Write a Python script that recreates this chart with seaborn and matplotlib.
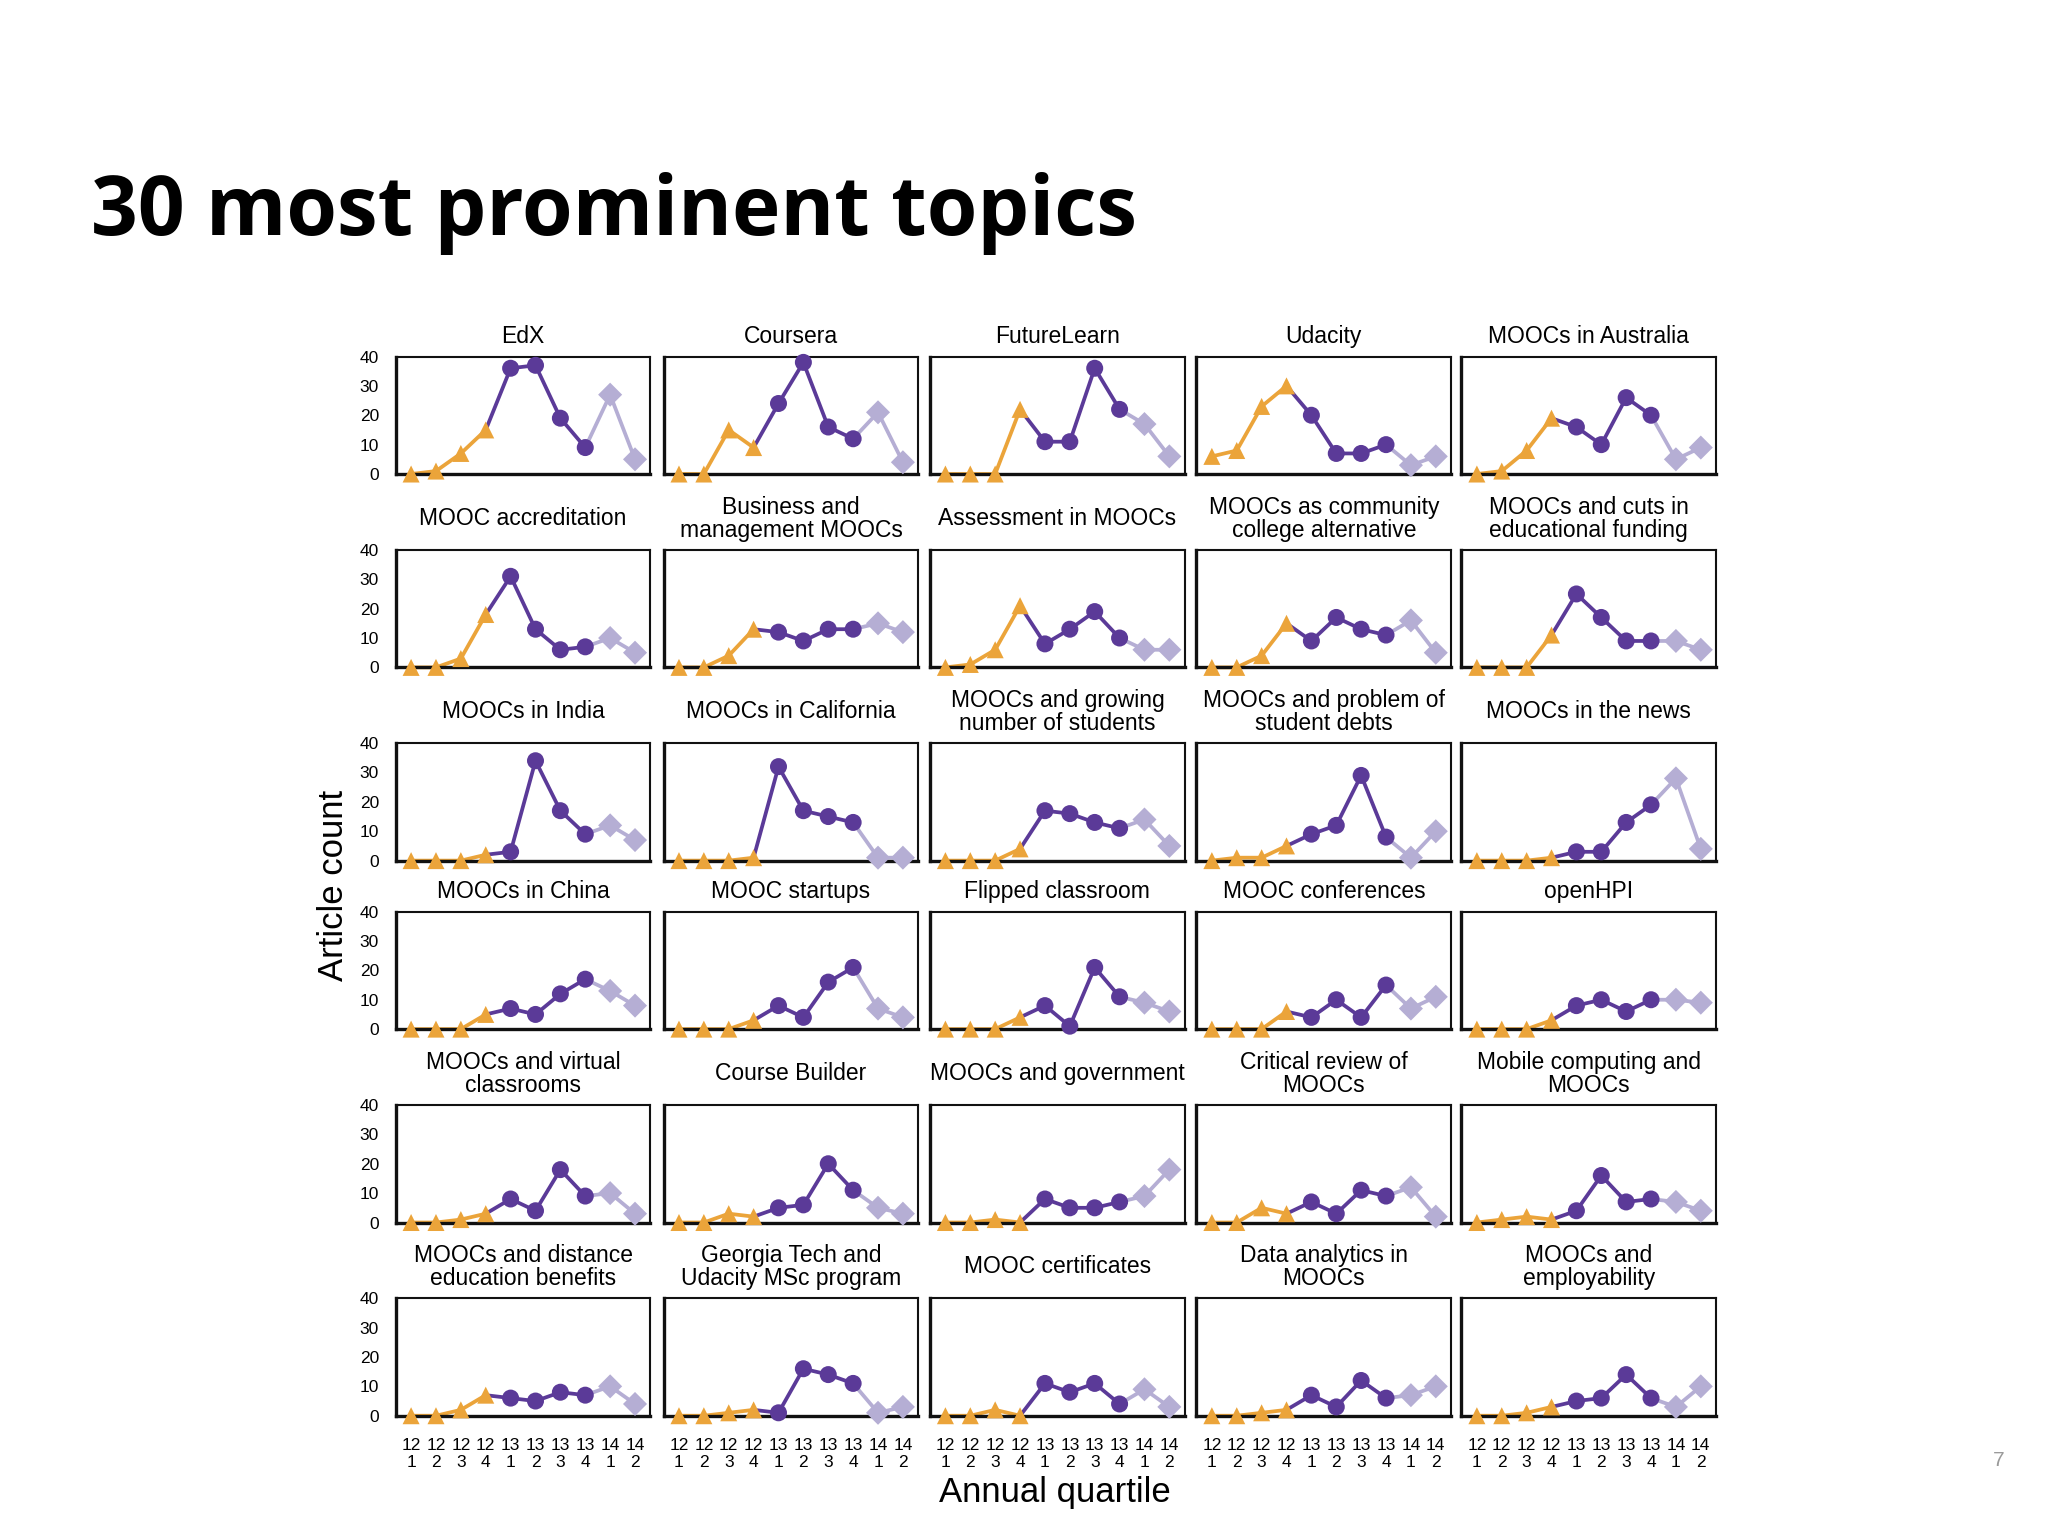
import numpy as np
import pandas as pd
import matplotlib.pyplot as plt
import seaborn as sns

# quarters 2012-1 .. 2014-2
QUARTERS = ["12\n1", "12\n2", "12\n3", "12\n4", "13\n1",
            "13\n2", "13\n3", "13\n4", "14\n1", "14\n2"]
YEARS = ["2012"] * 4 + ["2013"] * 4 + ["2014"] * 2

TOPICS = [
    "EdX", "Coursera", "FutureLearn", "Udacity", "MOOCs in Australia",
    "MOOC accreditation", "Business and\nmanagement MOOCs", "Assessment in MOOCs",
    "MOOCs as community\ncollege alternative", "MOOCs and cuts in\neducational funding",
    "MOOCs in India", "MOOCs in California", "MOOCs and growing\nnumber of students",
    "MOOCs and problem of\nstudent debts", "MOOCs in the news",
    "MOOCs in China", "MOOC startups", "Flipped classroom", "MOOC conferences", "openHPI",
    "MOOCs and virtual\nclassrooms", "Course Builder", "MOOCs and government",
    "Critical review of\nMOOCs", "Mobile computing and\nMOOCs",
    "MOOCs and distance\neducation benefits", "Georgia Tech and\nUdacity MSc program",
    "MOOC certificates", "Data analytics in\nMOOCs", "MOOCs and\nemployability",
]

ROW1 = [
    [0, 1, 7, 15, 36, 37, 19, 9, 27, 5],
    [0, 0, 15, 9, 24, 38, 16, 12, 21, 4],
    [0, 0, 0, 22, 11, 11, 36, 22, 17, 6],
    [6, 8, 23, 30, 20, 7, 7, 10, 3, 6],
    [0, 1, 8, 19, 16, 10, 26, 20, 5, 9],
]
ROW2 = [
    [0, 0, 3, 18, 31, 13, 6, 7, 10, 5],
    [0, 0, 4, 13, 12, 9, 13, 13, 15, 12],
    [0, 1, 6, 21, 8, 13, 19, 10, 6, 6],
    [0, 0, 4, 15, 9, 17, 13, 11, 16, 5],
    [0, 0, 0, 11, 25, 17, 9, 9, 9, 6],
]
ROW3 = [
    [0, 0, 0, 2, 3, 34, 17, 9, 12, 7],
    [0, 0, 0, 1, 32, 17, 15, 13, 1, 1],
    [0, 0, 0, 4, 17, 16, 13, 11, 14, 5],
    [0, 1, 1, 5, 9, 12, 29, 8, 1, 10],
    [0, 0, 0, 1, 3, 3, 13, 19, 28, 4],
]
ROW4 = [
    [0, 0, 0, 5, 7, 5, 12, 17, 13, 8],
    [0, 0, 0, 3, 8, 4, 16, 21, 7, 4],
    [0, 0, 0, 4, 8, 1, 21, 11, 9, 6],
    [0, 0, 0, 6, 4, 10, 4, 15, 7, 11],
    [0, 0, 0, 3, 8, 10, 6, 10, 10, 9],
]
ROW5 = [
    [0, 0, 1, 3, 8, 4, 18, 9, 10, 3],
    [0, 0, 3, 2, 5, 6, 20, 11, 5, 3],
    [0, 0, 1, 0, 8, 5, 5, 7, 9, 18],
    [0, 0, 5, 3, 7, 3, 11, 9, 12, 2],
    [0, 1, 2, 1, 4, 16, 7, 8, 7, 4],
]
ROW6 = [
    [0, 0, 2, 7, 6, 5, 8, 7, 10, 4],
    [0, 0, 1, 2, 1, 16, 14, 11, 1, 3],
    [0, 0, 2, 0, 11, 8, 11, 4, 9, 3],
    [0, 0, 1, 2, 7, 3, 12, 6, 7, 10],
    [0, 0, 1, 3, 5, 6, 14, 6, 3, 10],
]
ROWS = [ROW1, ROW2, ROW3, ROW4, ROW5, ROW6]

COLORS = {"2012": "#EBA43A", "2013": "#5B3A98", "2014": "#B5AED4"}
MARKERS = {"2012": "^", "2013": "o", "2014": "D"}
# each year's line starts from the last point of the previous year
SEGMENTS = {"2012": range(0, 4), "2013": range(3, 8), "2014": range(7, 10)}

sns.set_theme(style="white")
plt.rcParams["font.family"] = ["Liberation Sans", "DejaVu Sans"]
plt.rcParams.update({"text.color": "black", "axes.labelcolor": "black",
                     "xtick.color": "black", "ytick.color": "black"})

fig = plt.figure(figsize=(20.48, 15.36), dpi=100)

col_left = [0.1932, 0.3240, 0.4541, 0.5842, 0.7136]
row_top = [0.7679, 0.6420, 0.5162, 0.4065, 0.2806, 0.1548]
ax_w, ax_h = 0.1244, 0.0765

for r, row in enumerate(ROWS):
    two_line = any("\n" in TOPICS[r * 5 + c] for c in range(5))
    for c, counts in enumerate(row):
        ax = fig.add_axes([col_left[c], row_top[r] - ax_h, ax_w, ax_h])
        pts = pd.DataFrame({"q": np.arange(10), "count": counts, "year": YEARS})
        seg = pd.concat([pts.iloc[list(ix)].assign(seg=yr) for yr, ix in SEGMENTS.items()])

        sns.lineplot(data=seg, x="q", y="count", hue="seg", palette=COLORS,
                     estimator=None, sort=False, linewidth=2.7, legend=False,
                     ax=ax, clip_on=False, zorder=2)
        sns.scatterplot(data=pts, x="q", y="count", hue="year", style="year",
                        palette=COLORS, markers=MARKERS, s=150, linewidth=0,
                        legend=False, ax=ax, clip_on=False, zorder=3)

        ax.set_xlim(-0.62, 9.62)
        ax.set_ylim(0, 40)
        ax.set_xticks(range(10))
        ax.set_yticks([0, 10, 20, 30, 40])
        ax.set_xlabel("")
        ax.set_ylabel("")
        ax.tick_params(length=0, labelsize=12.5)
        ax.tick_params(axis="x", pad=16)
        ax.tick_params(axis="y", pad=12)
        if r == len(ROWS) - 1:
            ax.set_xticklabels(QUARTERS, linespacing=1.15)
        else:
            ax.set_xticklabels([])
        if c != 0:
            ax.set_yticklabels([])
        for side, sp in ax.spines.items():
            sp.set_visible(True)
            sp.set_color("#111111")
            sp.set_linewidth(2.4 if side in ("left", "bottom") else 1.5)

        ty = 1.267 if two_line else 1.167
        ax.text(0.5, ty, TOPICS[r * 5 + c], transform=ax.transAxes,
                ha="center", va="center", fontsize=16.5, linespacing=1.0)

fig.text(0.1626, 0.4235, "Article count", rotation=90, ha="center", va="center", fontsize=25)
fig.text(0.5153, 0.028, "Annual quartile", ha="center", va="center", fontsize=25)

fig.text(0.0446, 0.847, "30 most prominent topics", ha="left", va="baseline",
         fontsize=59, fontweight="bold", family=["Open Sans", "DejaVu Sans"])
fig.text(0.9758, 0.0493, "7", ha="center", va="center", fontsize=15, color="#9a9a9a")

fig.savefig("out.png", dpi=100, facecolor="white")
